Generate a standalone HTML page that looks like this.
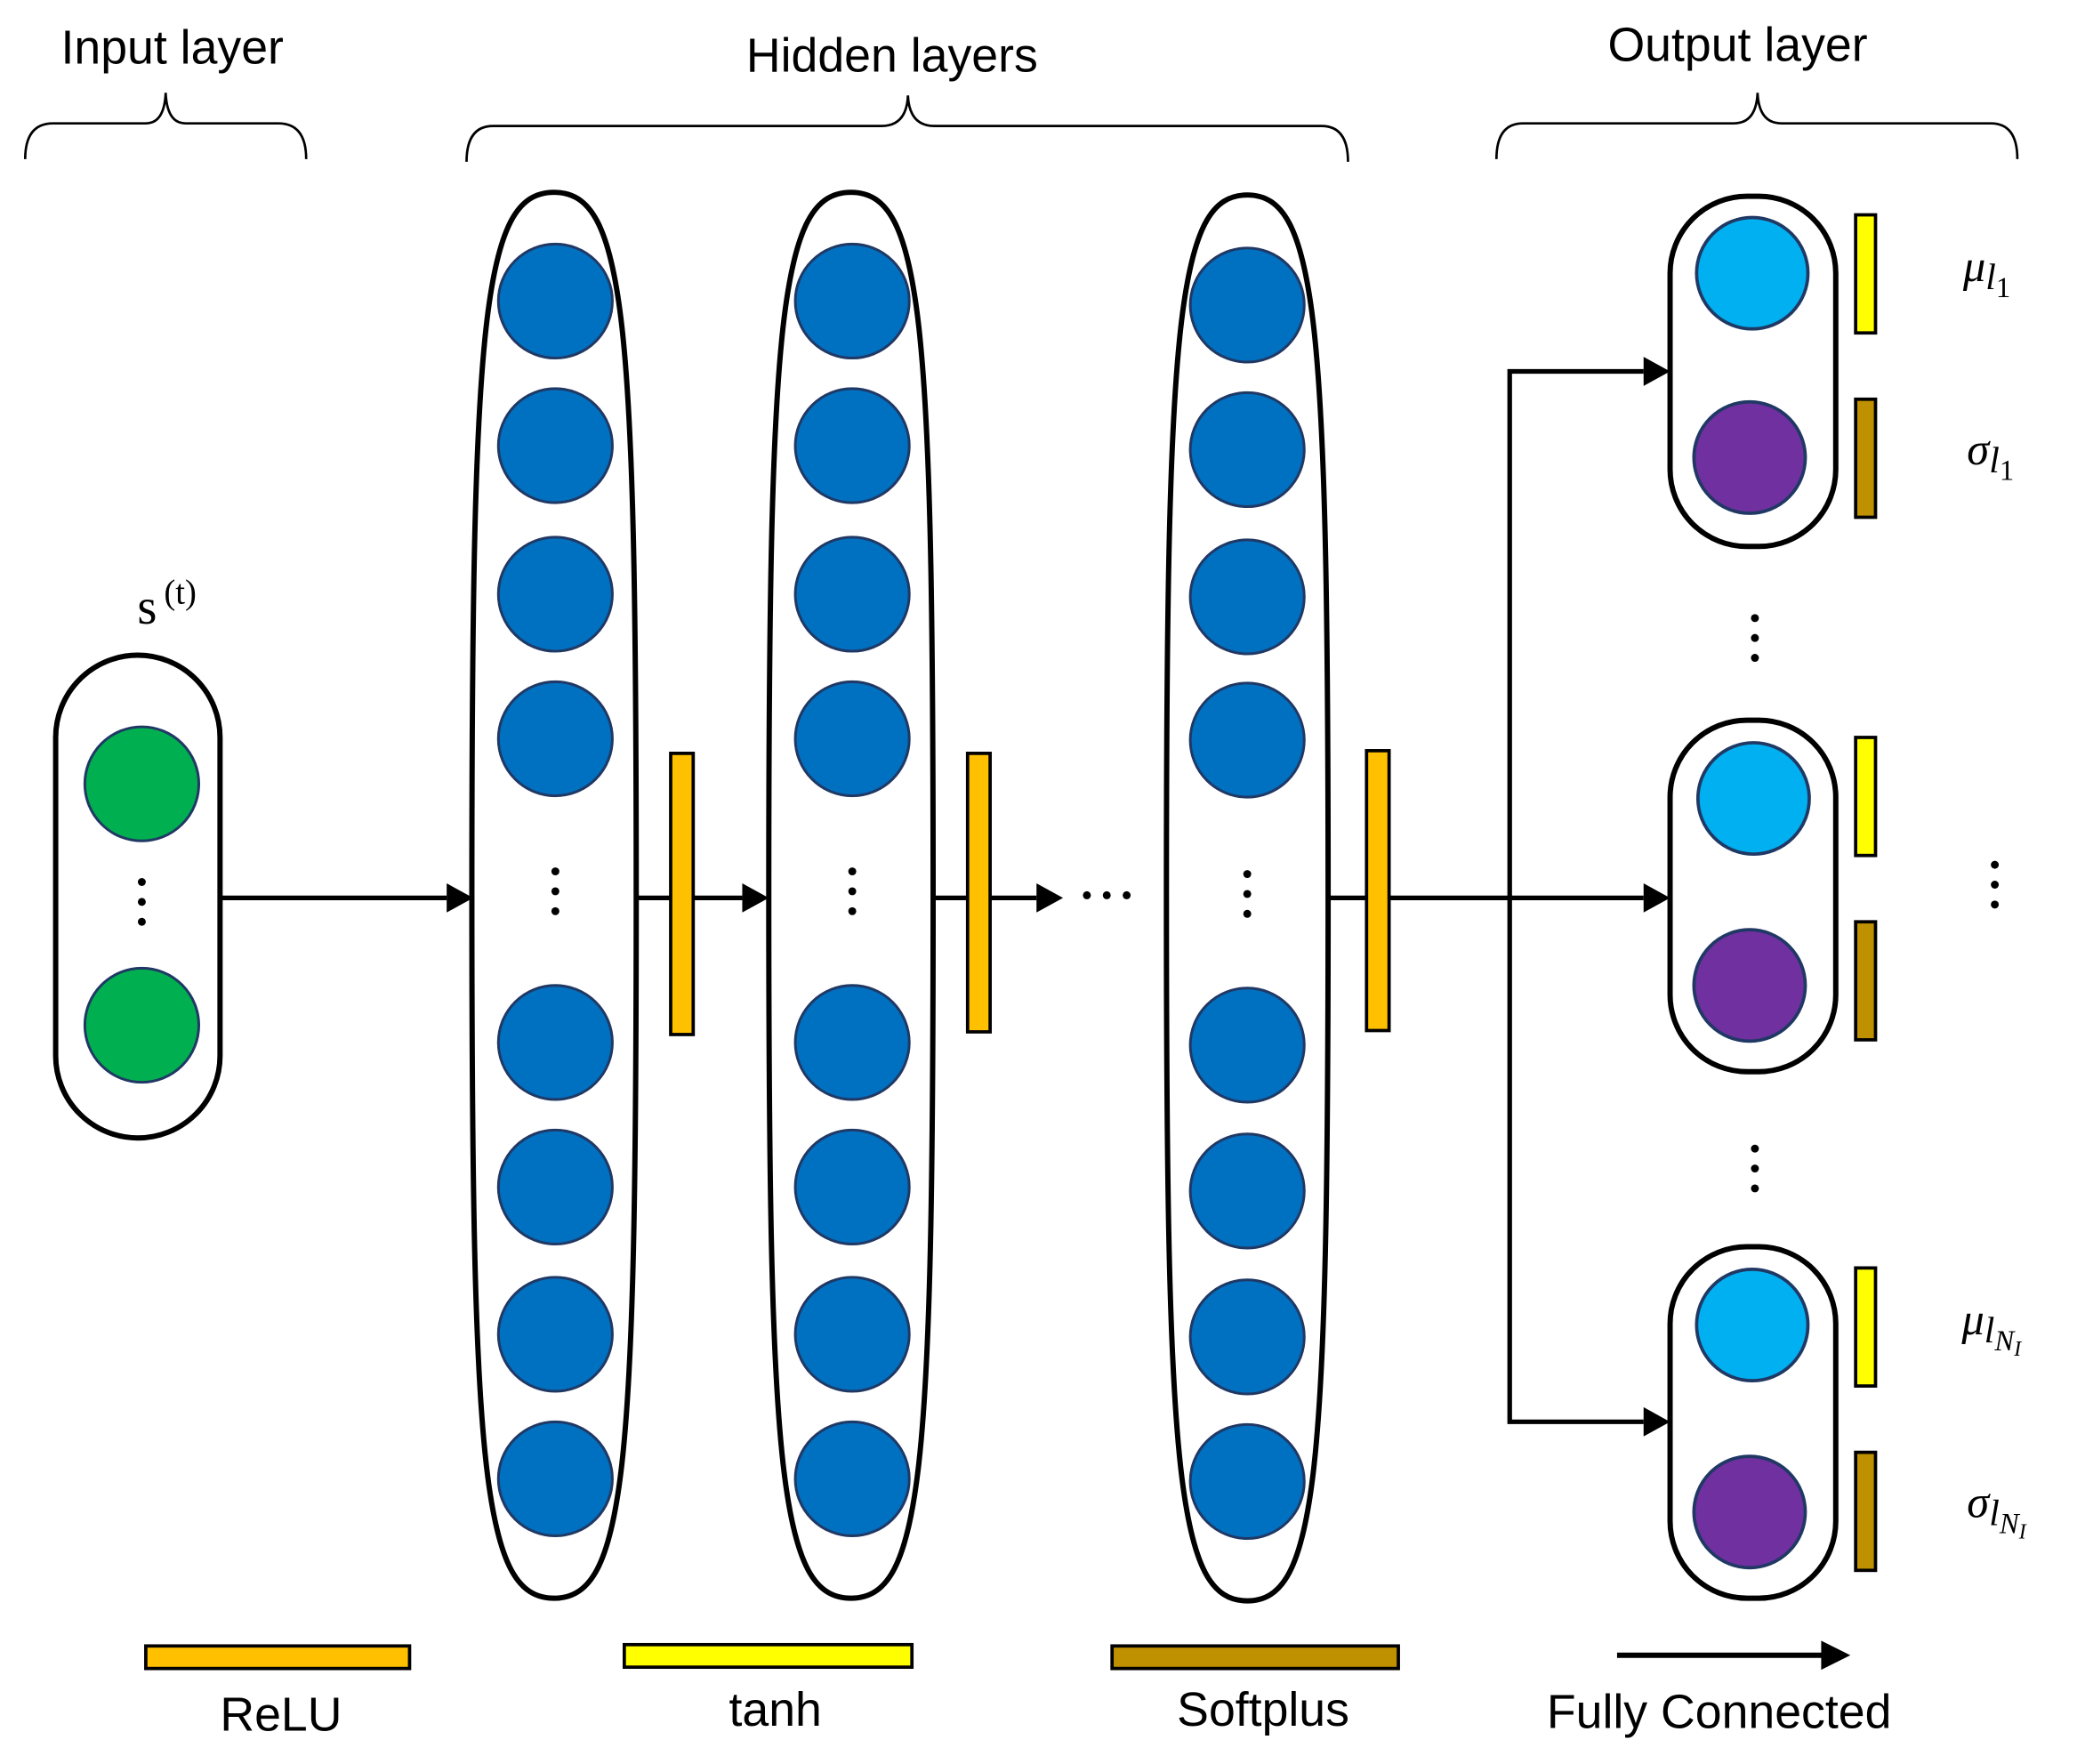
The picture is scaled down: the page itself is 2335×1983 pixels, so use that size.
<!DOCTYPE html>
<html><head><style>html,body{margin:0;padding:0;background:#fff}svg{display:block}</style></head>
<body>
<svg width="2335" height="1983" viewBox="0 0 1567 1330" preserveAspectRatio="none" xmlns="http://www.w3.org/2000/svg" font-family="Liberation Sans, sans-serif">
<g font-size="36" fill="#000" text-anchor="middle">
<text x="130" y="48">Input layer</text>
<text x="673" y="54">Hidden layers</text>
<text x="1311" y="46">Output layer</text>
</g>
<g fill="none" stroke="#000" stroke-width="1.8">
<path d="M19,120 Q19,93 40,93 L110,93 Q124,93 125,70 Q126,93 140,93 L210,93 Q231,93 231,120"/>
<path d="M352,122 Q352,95 372,95 L665,95 Q684,95 685,72 Q686,95 705,95 L997,95 Q1017,95 1017,122"/>
<path d="M1129,120 Q1129,93 1149,93 L1308,93 Q1325,93 1326,70 Q1327,93 1344,93 L1502,93 Q1522,93 1522,120"/>
</g>
<!-- input -->
<text x="111" y="470" font-family="Liberation Serif, serif" font-size="38" text-anchor="middle">s</text>
<text x="136" y="455" font-family="Liberation Serif, serif" font-size="26" text-anchor="middle">(t)</text>
<rect x="42" y="494" width="124" height="364" rx="62" fill="#fff" stroke="#000" stroke-width="4"/>
<g fill="#00B050" stroke="#203864" stroke-width="2">
<circle cx="107" cy="591" r="43"/><circle cx="107" cy="773" r="43"/></g>
<g fill="#000"><circle cx="107" cy="665" r="3"/><circle cx="107" cy="680" r="3"/><circle cx="107" cy="695" r="3"/></g>
<!-- hidden -->
<g fill="#fff" stroke="#000" stroke-width="4">
<path d="M418,145 C472,145 480,240 480,675 C480,1110 472,1205 418,1205 C364,1205 356,1110 356,675 C356,240 364,145 418,145 Z"/>
<path d="M642,145 C696,145 704,240 704,675 C704,1110 696,1205 642,1205 C588,1205 580,1110 580,675 C580,240 588,145 642,145 Z"/>
<path d="M941,147 C994,147 1002,242 1002,677 C1002,1112 994,1207 941,1207 C888,1207 880,1112 880,677 C880,242 888,147 941,147 Z"/>
</g>
<g fill="#0070C0" stroke="#203864" stroke-width="2">
<circle cx="419" cy="227" r="43"/><circle cx="419" cy="336" r="43"/><circle cx="419" cy="448" r="43"/><circle cx="419" cy="557" r="43"/>
<circle cx="419" cy="786" r="43"/><circle cx="419" cy="895" r="43"/><circle cx="419" cy="1006" r="43"/><circle cx="419" cy="1115" r="43"/>
<circle cx="643" cy="227" r="43"/><circle cx="643" cy="336" r="43"/><circle cx="643" cy="448" r="43"/><circle cx="643" cy="557" r="43"/>
<circle cx="643" cy="786" r="43"/><circle cx="643" cy="895" r="43"/><circle cx="643" cy="1006" r="43"/><circle cx="643" cy="1115" r="43"/>
<circle cx="941" cy="230" r="43"/><circle cx="941" cy="339" r="43"/><circle cx="941" cy="450" r="43"/><circle cx="941" cy="558" r="43"/>
<circle cx="941" cy="788" r="43"/><circle cx="941" cy="898" r="43"/><circle cx="941" cy="1008" r="43"/><circle cx="941" cy="1117" r="43"/>
</g>
<g fill="#000">
<circle cx="419" cy="657" r="3"/><circle cx="419" cy="672" r="3"/><circle cx="419" cy="687" r="3"/>
<circle cx="643" cy="657" r="3"/><circle cx="643" cy="672" r="3"/><circle cx="643" cy="687" r="3"/>
<circle cx="941" cy="659" r="3"/><circle cx="941" cy="674" r="3"/><circle cx="941" cy="689" r="3"/>
<circle cx="820" cy="675" r="3"/><circle cx="835" cy="675" r="3"/><circle cx="850" cy="675" r="3"/>
</g>
<!-- arrows -->
<g stroke="#000" stroke-width="3.5" fill="none">
<line x1="166" y1="677" x2="337" y2="677"/>
<line x1="480" y1="677" x2="560" y2="677"/>
<line x1="703" y1="677" x2="782" y2="677"/>
<line x1="1002" y1="677" x2="1240" y2="677"/>
<polyline points="1240,280 1139,280 1139,1072 1240,1072"/>
</g>
<g fill="#000">
<path d="M337,666 L357,677 L337,688 z"/>
<path d="M560,666 L580,677 L560,688 z"/>
<path d="M782,666 L802,677 L782,688 z"/>
<path d="M1240,666 L1260,677 L1240,688 z"/>
<path d="M1240,269 L1260,280 L1240,291 z"/>
<path d="M1240,1061 L1260,1072 L1240,1083 z"/>
</g>
<g fill="#FFC000" stroke="#000" stroke-width="2.5">
<rect x="506" y="568" width="17" height="212"/>
<rect x="730" y="568" width="17" height="210"/>
<rect x="1031" y="566" width="17" height="211"/>
</g>
<!-- output -->
<g fill="#fff" stroke="#000" stroke-width="4">
<rect x="1260" y="148" width="125" height="264" rx="58"/>
<rect x="1260" y="543" width="125" height="265" rx="58"/>
<rect x="1260" y="940" width="125" height="265" rx="58"/>
</g>
<g stroke="#203864" stroke-width="2.5">
<circle cx="1322" cy="206" r="42" fill="#00B0F0"/><circle cx="1320" cy="345" r="42" fill="#7030A0"/>
<circle cx="1323" cy="602" r="42" fill="#00B0F0"/><circle cx="1320" cy="743" r="42" fill="#7030A0"/>
<circle cx="1322" cy="999" r="42" fill="#00B0F0"/><circle cx="1320" cy="1140" r="42" fill="#7030A0"/>
</g>
<g stroke="#000" stroke-width="2.5">
<rect x="1400" y="162" width="15" height="89" fill="#FFFF00"/>
<rect x="1400" y="301" width="15" height="89" fill="#BF9000"/>
<rect x="1400" y="556" width="15" height="89" fill="#FFFF00"/>
<rect x="1400" y="695" width="15" height="89" fill="#BF9000"/>
<rect x="1400" y="956" width="15" height="89" fill="#FFFF00"/>
<rect x="1400" y="1095" width="15" height="89" fill="#BF9000"/>
</g>
<g fill="#000">
<circle cx="1324" cy="466" r="3"/><circle cx="1324" cy="481" r="3"/><circle cx="1324" cy="496" r="3"/>
<circle cx="1324" cy="866" r="3"/><circle cx="1324" cy="881" r="3"/><circle cx="1324" cy="896" r="3"/>
<circle cx="1505" cy="652" r="3"/><circle cx="1505" cy="667" r="3"/><circle cx="1505" cy="682" r="3"/>
</g>
<g font-family="Liberation Serif, serif" font-style="italic" fill="#000">
<text x="1481" y="212" font-size="34">μ<tspan font-size="28" dy="6">l</tspan><tspan font-size="22" dy="6" font-style="normal">1</tspan></text>
<text x="1484" y="350" font-size="34">σ<tspan font-size="28" dy="6">l</tspan><tspan font-size="22" dy="6" font-style="normal">1</tspan></text>
<text x="1480" y="1006" font-size="34">μ<tspan font-size="28" dy="6">l</tspan><tspan font-size="22" dy="6">N</tspan><tspan font-size="16" dy="4">I</tspan></text>
<text x="1484" y="1144" font-size="34">σ<tspan font-size="28" dy="6">l</tspan><tspan font-size="22" dy="6">N</tspan><tspan font-size="16" dy="4">I</tspan></text>
</g>
<!-- legend -->
<g stroke="#000" stroke-width="2.5">
<rect x="110" y="1241" width="199" height="17" fill="#FFC000"/>
<rect x="471" y="1240" width="217" height="17" fill="#FFFF00"/>
<rect x="839" y="1241" width="216" height="17" fill="#BF9000"/>
</g>
<line x1="1220" y1="1248" x2="1376" y2="1248" stroke="#000" stroke-width="4"/>
<path d="M1374,1237 L1396,1248 L1374,1259 z" fill="#000"/>
<g font-size="36" fill="#000" text-anchor="middle">
<text x="212" y="1305">ReLU</text>
<text x="585" y="1301">tanh</text>
<text x="953" y="1301">Softplus</text>
<text x="1297" y="1303">Fully Connected</text>
</g>
</svg>
</body></html>
